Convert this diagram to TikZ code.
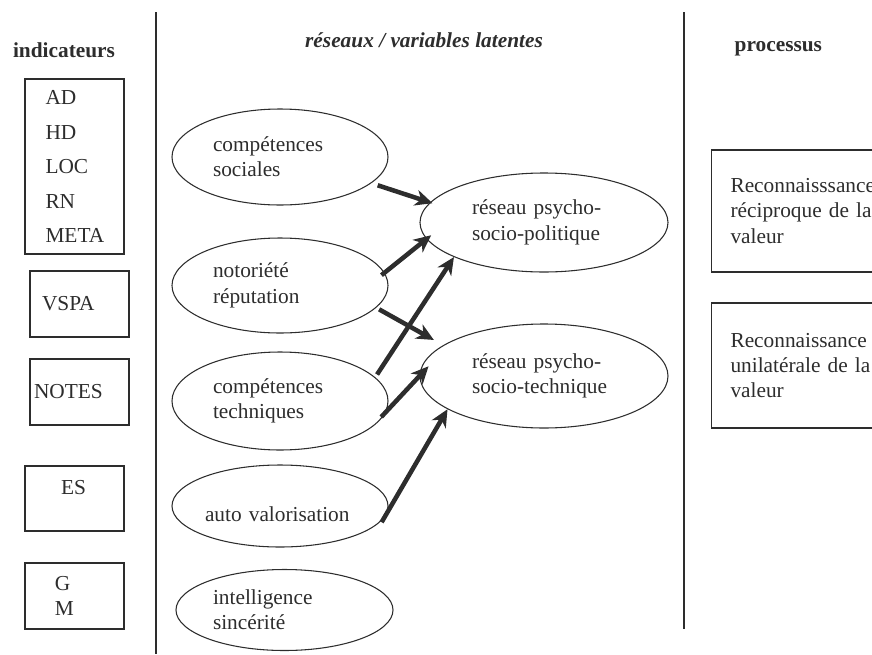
\documentclass[tikz,border=0pt]{standalone}
\usepackage{fontspec}
\setmainfont{Liberation Serif}
\usetikzlibrary{arrows.meta,shapes.geometric}
\definecolor{ink}{RGB}{45,45,45}
\tikzset{font=\fontsize{16}{19}\selectfont}
\tikzset{every node/.append style={text=ink}}
\tikzset{var/.style={draw=ink,line width=.8pt,ellipse,inner sep=0pt,align=left,text width=#1}}
\tikzset{ind/.style={draw=ink,line width=.8pt,rectangle,inner sep=0pt,minimum width=74.25pt,minimum height=49.5pt,align=left,text width=#1}}
\tikzset{proc/.style={draw=ink,line width=.8pt,rectangle,inner ysep=0pt,inner xsep=14.25pt,anchor=west,minimum width=150pt,align=left,text width=121.5pt}}
\tikzset{titre/.style={font=\fontsize{16}{19}\selectfont\bfseries,anchor=base}}
\tikzset{lien/.style={ink,line width=3.4pt,-{Stealth[length=13pt,width=12pt,inset=4pt]}}}

\begin{document}
\begin{tikzpicture}[x=.75pt,y=-.75pt]
\useasboundingbox (0,0) rectangle (872,654);
\clip (0,0) rectangle (872,654);
% column rules
\draw[ink,line width=.8pt] (156,12) -- (156,654);
\draw[ink,line width=.8pt] (684,12) -- (684,629);
% headings
\node[titre] (hind) at (64,57) {indicateurs};
\node[titre,font=\fontsize{16}{19}\selectfont\bfseries\itshape] (hres) at (424,47) {réseaux / variables latentes};
\node[titre,anchor=base west] (hproc) at (730,51) {processus};
% indicators
\node[ind=43.5pt,minimum height=131.25pt,font=\fontsize{16}{25.9}\selectfont] (ad) at (74.5,166.5) {AD\\HD\\LOC\\RN\\META};
\node[ind=56.25pt] (vspa) at (79.5,304) {VSPA};
\node[ind=68.25pt] (notes) at (79.5,392) {NOTES};
\node[ind=20.25pt,minimum height=48.75pt,text depth=17pt] (es) at (74.5,498.5) {ES};
\node[ind=29.25pt] (gm) at (74.5,596) {G\\M};
% latent variables
\node[var=100.5pt,minimum width=162pt,minimum height=72pt] (soc) at (280,157) {compétences\\sociales};
\node[var=100.5pt,minimum width=162pt,minimum height=71.25pt] (noto) at (280,285.5) {notoriété\\réputation};
\node[var=100.5pt,minimum width=162pt,minimum height=73.5pt] (techn) at (280,401) {compétences\\techniques};
\node[var=112.5pt,minimum width=162pt,minimum height=61.5pt,text height=24pt] (auto) at (280,506) {auto valorisation};
\node[var=107.25pt,minimum width=162.75pt,minimum height=60.75pt] (intel) at (284.5,610) {intelligence\\sincérité};
% networks
\node[var=108pt,minimum width=186pt,minimum height=74.25pt] (pol) at (544,222.5) {réseau psycho-\\socio-politique};
\node[var=108pt,minimum width=186pt,minimum height=78pt] (tech) at (544,376) {réseau psycho-\\socio-technique};
% processes
\node[proc,minimum height=91.5pt] (rec) at (711,211) {Reconnaisssance\\réciproque de la\\valeur};
\node[proc,minimum height=93.75pt] (uni) at (711,365.5) {Reconnaissance\\unilatérale de la\\valeur};
% links
\draw[lien,shorten <=5pt,shorten >=-2pt] (soc.-16) -- (pol.170);
\draw[lien,shorten <=-3pt,shorten >=-4.5pt] (noto.7) -- (pol.-172);
\draw[lien,shorten <=2.5pt,shorten >=8pt] (noto.-13) -- (tech.163);
\draw[lien,shorten <=2.5pt] (techn.14) -- (pol.-159);
\draw[lien,shorten <=-5pt,shorten >=-10pt] (techn.-6) -- (tech.180);
\draw[lien,shorten <=-4.5pt] (auto.-6) -- (tech.-161);
\end{tikzpicture}
\end{document}
